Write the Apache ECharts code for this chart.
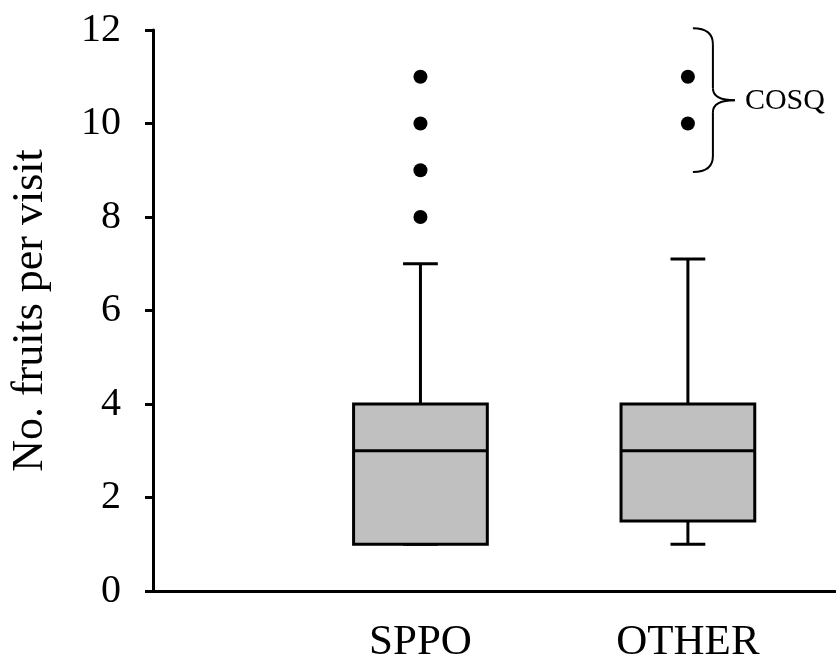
<!DOCTYPE html>
<html>
<head>
<meta charset="utf-8">
<script src="https://cdn.jsdelivr.net/npm/echarts@6/dist/echarts.min.js"></script>
<style>html,body{margin:0;padding:0;background:#fff}#c{width:836px;height:664px}
#pre{position:absolute;left:-9999px;font-family:'Liberation Serif';}</style>
</head>
<body>
<div id="pre">No. fruits per visit 0123456789 SPPO OTHER COSQ</div>
<div id="c"></div>
<script>
// ---- data ----
var categories = ['SPPO', 'OTHER'];
// [min, Q1, median, Q3, max]
var sppoBox = [1, 1, 3, 4, 7];
var otherBox = [1, 1.5, 3, 4, 7.1];
var sppoOutliers = [8, 9, 10, 11];
var otherOutliers = [10, 11];
var yTicks = [0, 2, 4, 6, 8, 10, 12];
var braceLabel = 'COSQ';
var yAxisTitle = 'No. fruits per visit';

var FONT = 'Liberation Serif, Times New Roman, serif';

var boxes = [sppoBox, otherBox];
var boxData = boxes.map(function (b, i) { return [i + 1].concat(b); });
var outlierData = [];
sppoOutliers.forEach(function (v) { outlierData.push([1, v]); });
otherOutliers.forEach(function (v) { outlierData.push([2, v]); });

function renderBox(params, api) {
  var x = api.value(0);
  var mn = api.value(1), q1 = api.value(2), med = api.value(3), q3 = api.value(4), mx = api.value(5);
  var half = 0.25, cap = 0.065;
  var st = { stroke: '#000', lineWidth: 3, fill: null };
  var tl = api.coord([x - half, q3]);
  var br = api.coord([x + half, q1]);
  var c3 = api.coord([x, q3]), cMx = api.coord([x, mx]);
  var c1 = api.coord([x, q1]), cMn = api.coord([x, mn]);
  var capL1 = api.coord([x - cap, mx]), capR1 = api.coord([x + cap, mx]);
  var capL2 = api.coord([x - cap, mn]), capR2 = api.coord([x + cap, mn]);
  var mL = api.coord([x - half, med]), mR = api.coord([x + half, med]);
  return {
    type: 'group',
    children: [
      { type: 'line', shape: { x1: c3[0], y1: c3[1], x2: cMx[0], y2: cMx[1] }, style: st },
      { type: 'line', shape: { x1: capL1[0], y1: capL1[1], x2: capR1[0], y2: capR1[1] }, style: st },
      { type: 'line', shape: { x1: c1[0], y1: c1[1], x2: cMn[0], y2: cMn[1] }, style: st },
      { type: 'line', shape: { x1: capL2[0], y1: capL2[1], x2: capR2[0], y2: capR2[1] }, style: st },
      { type: 'rect', shape: { x: tl[0], y: tl[1], width: br[0] - tl[0], height: br[1] - tl[1] },
        style: { fill: '#c0c0c0', stroke: '#000', lineWidth: 3 } },
      { type: 'line', shape: { x1: mL[0], y1: mL[1], x2: mR[0], y2: mR[1] }, style: st }
    ]
  };
}

var chart = echarts.init(document.getElementById('c'), null, { renderer: 'canvas' });
var option = {
  animation: false,
  backgroundColor: '#fff',
  textStyle: { fontFamily: FONT },
  grid: { left: 151, right: 1, top: 30, bottom: 71, containLabel: false },
  xAxis: {
    type: 'value', min: 0, max: 2.55, interval: 1,
    axisLine: { show: true, onZero: false, lineStyle: { color: '#000', width: 3 } },
    axisTick: { show: false },
    splitLine: { show: false },
    axisLabel: {
      margin: 30, color: '#000', fontFamily: FONT, fontSize: 43,
      showMinLabel: true, showMaxLabel: false,
      formatter: function (v) { var i = Math.round(v); return (Math.abs(v - i) < 1e-6 && i >= 1 && i <= categories.length) ? categories[i - 1] : ''; }
    }
  },
  yAxis: {
    type: 'value', min: yTicks[0], max: yTicks[yTicks.length - 1], interval: yTicks[1] - yTicks[0],
    name: yAxisTitle, nameLocation: 'middle', nameGap: 101, nameMoveOverlap: false,
    nameTextStyle: { color: '#000', fontFamily: FONT, fontSize: 44 },
    axisLine: { show: true, lineStyle: { color: '#000', width: 3 } },
    axisTick: { show: true, inside: false, length: 8, lineStyle: { color: '#000', width: 3 } },
    splitLine: { show: false },
    axisLabel: { margin: 32, color: '#000', fontFamily: FONT, fontSize: 40 }
  },
  series: [
    { type: 'custom', renderItem: renderBox, data: boxData, encode: { x: 0, y: [1, 2, 3, 4, 5] }, z: 2 },
    { type: 'scatter', data: outlierData, symbol: 'circle', symbolSize: 14,
      itemStyle: { color: '#000', opacity: 1 }, z: 3 }
  ]
};
chart.setOption(option);

// brace annotation around OTHER outliers
var pTop = chart.convertToPixel({ gridIndex: 0 }, [2, 12.04]);
var pBot = chart.convertToPixel({ gridIndex: 0 }, [2, 8.96]);
var pMid = chart.convertToPixel({ gridIndex: 0 }, [2, 10.5]);
var bx = pTop[0] + 25, sx = pTop[0] + 5, tx = pTop[0] + 47;
var yT = pTop[1], yB = pBot[1], yM = pMid[1];
var bst = { stroke: '#000', lineWidth: 2, fill: null };
chart.setOption({
  graphic: [
    { type: 'bezierCurve', shape: { x1: sx, y1: yT, cpx1: bx, cpy1: yT, x2: bx, y2: yT + 16 }, style: bst, z: 10 },
    { type: 'line', shape: { x1: bx, y1: yT + 16, x2: bx, y2: yM - 12 }, style: bst, z: 10 },
    { type: 'bezierCurve', shape: { x1: bx, y1: yM - 12, cpx1: bx, cpy1: yM, x2: tx, y2: yM }, style: bst, z: 10 },
    { type: 'bezierCurve', shape: { x1: tx, y1: yM, cpx1: bx, cpy1: yM, x2: bx, y2: yM + 12 }, style: bst, z: 10 },
    { type: 'line', shape: { x1: bx, y1: yM + 12, x2: bx, y2: yB - 16 }, style: bst, z: 10 },
    { type: 'bezierCurve', shape: { x1: bx, y1: yB - 16, cpx1: bx, cpy1: yB, x2: sx, y2: yB }, style: bst, z: 10 },
    { type: 'text', x: tx + 10, y: yM + 1, style: { text: braceLabel, fill: '#000', fontFamily: FONT, fontSize: 30, verticalAlign: 'middle', align: 'left' }, z: 10 }
  ]
});
</script>
</body>
</html>
